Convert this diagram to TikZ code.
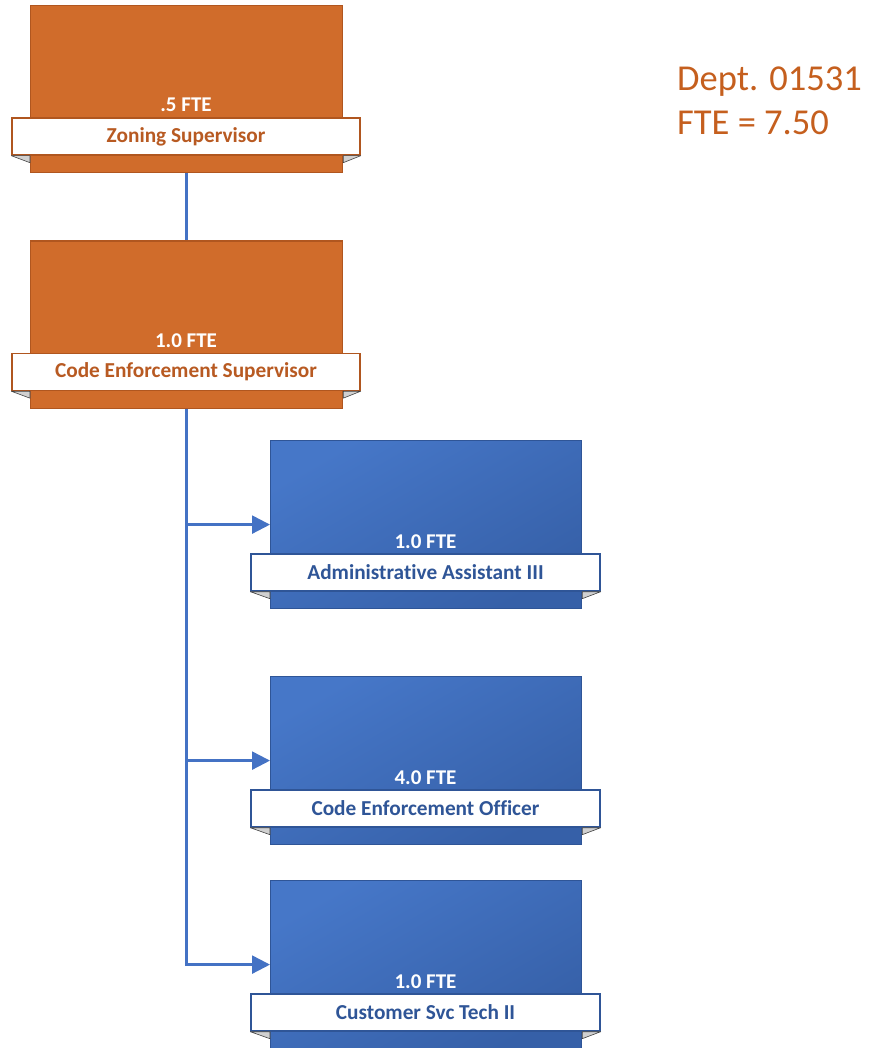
\documentclass[tikz,border=0pt]{standalone}
\usepackage{fontspec}
\setmainfont{Carlito}[Ligatures=NoCommon]
\usetikzlibrary{arrows.meta,calc}
\definecolor{orgfill}{HTML}{D06C2B}
\definecolor{orgline}{HTML}{B0561F}
\definecolor{orgtext}{HTML}{B85A22}
\definecolor{depttext}{HTML}{C55F1E}
\definecolor{bluelight}{HTML}{4677C8}
\definecolor{bluedark}{HTML}{3660A8}
\definecolor{blueline}{HTML}{2F5597}
\definecolor{bluetext}{HTML}{2F5597}
\definecolor{linkblue}{HTML}{4472C4}
\definecolor{foldgray}{HTML}{D0D0D0}
\tikzset{
  orgbox/.style={draw=orgline, line width=1.2pt, fill=orgfill, minimum width=312pt, minimum height=167pt, inner sep=0pt},
  bluebox/.style={draw=blueline, line width=1.2pt, top color=bluelight, bottom color=bluedark, shading angle=30, minimum width=311pt, minimum height=168pt, inner sep=0pt},
  orgband/.style={draw=orgline, line width=1.4pt, fill=white, minimum width=348pt, minimum height=37pt, inner sep=0pt, text=orgtext, font=\fontsize{21.3}{22}\selectfont\bfseries},
  blueband/.style={draw=blueline, line width=1.4pt, fill=white, minimum width=349pt, minimum height=37pt, inner sep=0pt, text=bluetext, font=\fontsize{21.3}{22}\selectfont\bfseries},
  ftetext/.style={text=white, font=\fontsize{21}{22}\selectfont\bfseries, inner sep=0pt},
  fold/.style={fill=foldgray, draw=black!75, line width=0.6pt, line join=round},
  link/.style={draw=linkblue, line width=2.4pt},
  linkarrow/.style={link, -{Triangle[length=18pt, width=18pt]}}
}
\begin{document}
\begin{tikzpicture}[x=1pt,y=-1pt]
\useasboundingbox (0,0) rectangle (869,1048);

% department summary
\node[anchor=north west, align=left, inner sep=0pt, text=depttext,
      font=\fontsize{36.5}{44}\selectfont] (dept) at (677,67) {Dept. 01531\\FTE = 7.50};

% supervisors
\node[orgbox, anchor=north west] (zs) at (30,5) {};
\node[orgband] (zsband) at (186,136.5) {Zoning Supervisor};
\node[ftetext] (zsfte) at (186,105) {.5 FTE};

\node[orgbox, anchor=north west] (ces) at (30,240.5) {};
\node[orgband] (cesband) at (186,372) {Code Enforcement Supervisor};
\node[ftetext] (cesfte) at (186,341) {1.0 FTE};

% staff
\node[bluebox, anchor=north west] (aa) at (270,440) {};
\node[blueband] (aaband) at (425.5,572.5) {Administrative Assistant III};
\node[ftetext] (aafte) at (425.5,542) {1.0 FTE};

\node[bluebox, anchor=north west] (ceo) at (270,676) {};
\node[blueband] (ceoband) at (425.5,808.5) {Code Enforcement Officer};
\node[ftetext] (ceofte) at (425.5,778) {4.0 FTE};

\node[bluebox, anchor=north west] (cst) at (270,880) {};
\node[blueband] (cstband) at (425.5,1012.5) {Customer Svc Tech II};
\node[ftetext] (cstfte) at (425.5,982) {1.0 FTE};

% folded ends under each title band
\foreach \b/\bx in {zs/zsband, ces/cesband, aa/aaband, ceo/ceoband, cst/cstband}{
  \filldraw[fold] (\bx.south west) -- ($(\b.west |- \bx.south)+(0,7)$) -- (\b.west |- \bx.south) -- cycle;
  \filldraw[fold] (\bx.south east) -- ($(\b.east |- \bx.south)+(0,7)$) -- (\b.east |- \bx.south) -- cycle;
}

% reporting lines
\draw[link] (zs.south) -- (ces.north);
\draw[linkarrow] (ces.south) |- (aa.west);
\draw[linkarrow] (ces.south) |- (ceo.west);
\draw[linkarrow] (ces.south) |- (cst.west);
\end{tikzpicture}
\end{document}
